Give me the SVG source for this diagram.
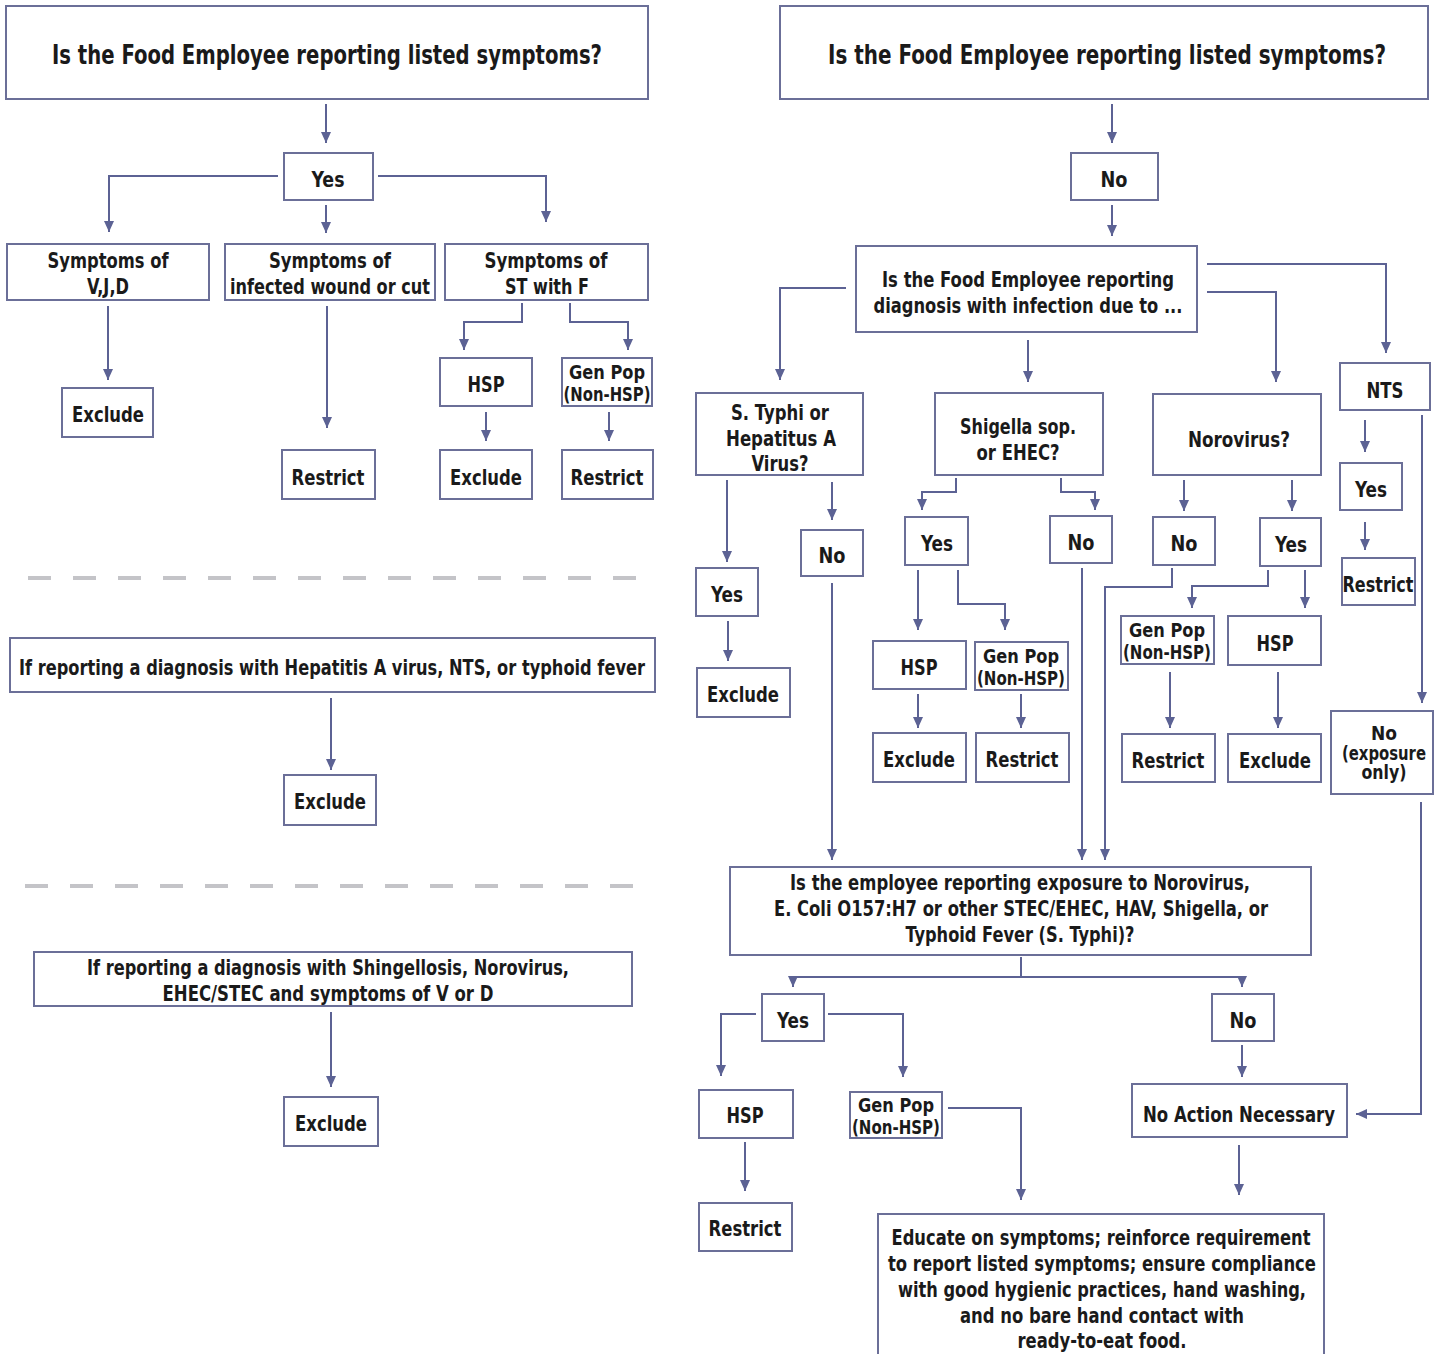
<svg xmlns="http://www.w3.org/2000/svg" width="1442" height="1354" viewBox="0 0 1442 1354">
<style>
.b{fill:#fff;stroke:#6b6f98;stroke-width:2}
.t{font-family:'Liberation Sans Narrow','DejaVu Sans Condensed','DejaVu Sans',sans-serif;font-stretch:condensed;font-weight:bold;font-size:22px;fill:#1a1a1a;text-anchor:middle}
.s{font-size:19px}
.h{font-size:27px}
.c{fill:none;stroke:#5c6294;stroke-width:2}
.d{fill:none;stroke:#c4c4c8;stroke-width:4;stroke-dasharray:23 22}
</style>
<defs>
<marker id="a" markerUnits="userSpaceOnUse" markerWidth="12" markerHeight="10" refX="11" refY="5" orient="auto">
<path d="M0,0 L11,5 L0,10 z" fill="#5c6294"/>
</marker>
</defs>
<rect width="1442" height="1354" fill="#fff"/>

<g id="connectors">
<g class="c" marker-end="url(#a)">
<path d="M326,104 V143"/>
<path d="M278,176 H109 V232"/>
<path d="M326,205 V233"/>
<path d="M378,176 H546 V222"/>
<path d="M108,306 V380"/>
<path d="M327,306 V428"/>
<path d="M522,303 V322 H464 V350"/>
<path d="M570,303 V322 H628 V350"/>
<path d="M486,412 V441"/>
<path d="M609,412 V441"/>
<path d="M331,698 V770"/>
<path d="M331,1012 V1087"/>
<path d="M1112,104 V143"/>
<path d="M1112,205 V236"/>
<path d="M846,288 H780 V380"/>
<path d="M1028,340 V382"/>
<path d="M1207,292 H1276 V382"/>
<path d="M1207,264 H1386 V353"/>
<path d="M727,480 V562"/>
<path d="M832,482 V520"/>
<path d="M728,621 V661"/>
<path d="M832,583 V860"/>
<path d="M956,478 V492 H922 V510"/>
<path d="M1061,478 V492 H1095 V510"/>
<path d="M918,570 V630"/>
<path d="M958,570 V604 H1005 V630"/>
<path d="M918,694 V728"/>
<path d="M1021,694 V728"/>
<path d="M1082,568 V860"/>
<path d="M1184,480 V511"/>
<path d="M1292,480 V511"/>
<path d="M1172,568 V587 H1105 V860"/>
<path d="M1268,570 V586 H1192 V608"/>
<path d="M1305,570 V608"/>
<path d="M1170,672 V728"/>
<path d="M1278,672 V728"/>
<path d="M1365,420 V452"/>
<path d="M1365,522 V550"/>
<path d="M1422,415 V703"/>
<path d="M1421,802 V1114 H1356"/>
<path d="M1021,977 H793 V987"/>
<path d="M1021,977 H1242 V987"/>
<path d="M756,1014 H721 V1076"/>
<path d="M828,1014 H903 V1077"/>
<path d="M745,1142 V1191"/>
<path d="M948,1108 H1021 V1200"/>
<path d="M1242,1045 V1077"/>
<path d="M1239,1145 V1195"/>
</g>
<path class="c" d="M1021,957 V977"/>
<path class="d" d="M28,578 H640"/>
<path class="d" d="M25,886 H640"/>
</g>

<g id="title-left"><rect class="b" x="6" y="6" width="642" height="93"/><text class="t h" x="327" y="64" textLength="550" lengthAdjust="spacingAndGlyphs">Is the Food Employee reporting listed symptoms?</text></g>
<g id="yes-left"><rect class="b" x="284" y="153" width="89" height="47"/><text class="t" x="328" y="187" textLength="33" lengthAdjust="spacingAndGlyphs">Yes</text></g>
<g id="sym-vjd"><rect class="b" x="7" y="244" width="202" height="56"/><text class="t" x="108" y="268" textLength="121" lengthAdjust="spacingAndGlyphs">Symptoms of</text><text class="t" x="108" y="294" textLength="42" lengthAdjust="spacingAndGlyphs">V,J,D</text></g>
<g id="sym-wound"><rect class="b" x="225" y="244" width="210" height="56"/><text class="t" x="330" y="268" textLength="122" lengthAdjust="spacingAndGlyphs">Symptoms of</text><text class="t" x="330" y="294" textLength="200" lengthAdjust="spacingAndGlyphs">infected wound or cut</text></g>
<g id="sym-st"><rect class="b" x="445" y="244" width="203" height="56"/><text class="t" x="546" y="268" textLength="123" lengthAdjust="spacingAndGlyphs">Symptoms of</text><text class="t" x="547" y="294" textLength="84" lengthAdjust="spacingAndGlyphs">ST with F</text></g>
<g id="exclude-vjd"><rect class="b" x="62" y="388" width="91" height="49"/><text class="t" x="108" y="422" textLength="72" lengthAdjust="spacingAndGlyphs">Exclude</text></g>
<g id="restrict-wound"><rect class="b" x="282" y="450" width="93" height="49"/><text class="t" x="328" y="485" textLength="73" lengthAdjust="spacingAndGlyphs">Restrict</text></g>
<g id="hsp-st"><rect class="b" x="440" y="358" width="92" height="48"/><text class="t" x="486" y="392" textLength="37" lengthAdjust="spacingAndGlyphs">HSP</text></g>
<g id="genpop-st"><rect class="b" x="562" y="358" width="90" height="48"/><text class="t s" x="607" y="379" textLength="76" lengthAdjust="spacingAndGlyphs">Gen Pop</text><text class="t s" x="607" y="401" textLength="87" lengthAdjust="spacingAndGlyphs">(Non-HSP)</text></g>
<g id="exclude-st"><rect class="b" x="440" y="450" width="92" height="49"/><text class="t" x="486" y="485" textLength="72" lengthAdjust="spacingAndGlyphs">Exclude</text></g>
<g id="restrict-st"><rect class="b" x="562" y="450" width="91" height="49"/><text class="t" x="607" y="485" textLength="73" lengthAdjust="spacingAndGlyphs">Restrict</text></g>
<g id="hep-diag"><rect class="b" x="10" y="638" width="645" height="54"/><text class="t" x="332" y="675" textLength="626" lengthAdjust="spacingAndGlyphs">If reporting a diagnosis with Hepatitis A virus, NTS, or typhoid fever</text></g>
<g id="exclude-hep"><rect class="b" x="284" y="775" width="92" height="50"/><text class="t" x="330" y="809" textLength="72" lengthAdjust="spacingAndGlyphs">Exclude</text></g>
<g id="shig-diag"><rect class="b" x="34" y="952" width="598" height="54"/><text class="t" x="328" y="975" textLength="482" lengthAdjust="spacingAndGlyphs">If reporting a diagnosis with Shingellosis, Norovirus,</text><text class="t" x="328" y="1001" textLength="331" lengthAdjust="spacingAndGlyphs">EHEC/STEC and symptoms of V or D</text></g>
<g id="exclude-shig"><rect class="b" x="284" y="1097" width="94" height="49"/><text class="t" x="331" y="1131" textLength="72" lengthAdjust="spacingAndGlyphs">Exclude</text></g>

<g id="title-right"><rect class="b" x="780" y="6" width="648" height="93"/><text class="t h" x="1107" y="64" textLength="558" lengthAdjust="spacingAndGlyphs">Is the Food Employee reporting listed symptoms?</text></g>
<g id="no-top"><rect class="b" x="1071" y="153" width="87" height="47"/><text class="t" x="1114" y="187" textLength="27" lengthAdjust="spacingAndGlyphs">No</text></g>
<g id="diagnosis"><rect class="b" x="856" y="246" width="341" height="86"/><text class="t" x="1028" y="287" textLength="292" lengthAdjust="spacingAndGlyphs">Is the Food Employee reporting</text><text class="t" x="1028" y="313" textLength="309" lengthAdjust="spacingAndGlyphs">diagnosis with infection due to ...</text></g>
<g id="typhi"><rect class="b" x="696" y="393" width="167" height="82"/><text class="t" x="780" y="420" textLength="98" lengthAdjust="spacingAndGlyphs">S. Typhi or</text><text class="t" x="781" y="446" textLength="110" lengthAdjust="spacingAndGlyphs">Hepatitus A</text><text class="t" x="780" y="471" textLength="57" lengthAdjust="spacingAndGlyphs">Virus?</text></g>
<g id="shigella"><rect class="b" x="935" y="393" width="168" height="82"/><text class="t" x="1018" y="434" textLength="116" lengthAdjust="spacingAndGlyphs">Shigella sop.</text><text class="t" x="1018" y="460" textLength="83" lengthAdjust="spacingAndGlyphs">or EHEC?</text></g>
<g id="norovirus"><rect class="b" x="1153" y="394" width="168" height="81"/><text class="t" x="1239" y="447" textLength="102" lengthAdjust="spacingAndGlyphs">Norovirus?</text></g>
<g id="nts"><rect class="b" x="1340" y="363" width="90" height="47"/><text class="t" x="1385" y="398" textLength="37" lengthAdjust="spacingAndGlyphs">NTS</text></g>
<g id="typhi-yes"><rect class="b" x="696" y="568" width="62" height="48"/><text class="t" x="727" y="602" textLength="32" lengthAdjust="spacingAndGlyphs">Yes</text></g>
<g id="typhi-no"><rect class="b" x="801" y="530" width="62" height="46"/><text class="t" x="832" y="563" textLength="27" lengthAdjust="spacingAndGlyphs">No</text></g>
<g id="typhi-exclude"><rect class="b" x="697" y="668" width="93" height="49"/><text class="t" x="743" y="702" textLength="72" lengthAdjust="spacingAndGlyphs">Exclude</text></g>
<g id="shig-yes"><rect class="b" x="905" y="517" width="63" height="48"/><text class="t" x="937" y="551" textLength="32" lengthAdjust="spacingAndGlyphs">Yes</text></g>
<g id="shig-no"><rect class="b" x="1050" y="516" width="62" height="47"/><text class="t" x="1081" y="550" textLength="27" lengthAdjust="spacingAndGlyphs">No</text></g>
<g id="shig-hsp"><rect class="b" x="873" y="641" width="93" height="48"/><text class="t" x="919" y="675" textLength="37" lengthAdjust="spacingAndGlyphs">HSP</text></g>
<g id="shig-genpop"><rect class="b" x="975" y="642" width="93" height="48"/><text class="t s" x="1021" y="663" textLength="76" lengthAdjust="spacingAndGlyphs">Gen Pop</text><text class="t s" x="1021" y="685" textLength="88" lengthAdjust="spacingAndGlyphs">(Non-HSP)</text></g>
<g id="shig-exclude"><rect class="b" x="873" y="733" width="93" height="49"/><text class="t" x="919" y="767" textLength="72" lengthAdjust="spacingAndGlyphs">Exclude</text></g>
<g id="shig-restrict"><rect class="b" x="976" y="733" width="93" height="49"/><text class="t" x="1022" y="767" textLength="73" lengthAdjust="spacingAndGlyphs">Restrict</text></g>
<g id="noro-no"><rect class="b" x="1153" y="517" width="62" height="48"/><text class="t" x="1184" y="551" textLength="27" lengthAdjust="spacingAndGlyphs">No</text></g>
<g id="noro-yes"><rect class="b" x="1260" y="518" width="61" height="48"/><text class="t" x="1291" y="552" textLength="32" lengthAdjust="spacingAndGlyphs">Yes</text></g>
<g id="noro-genpop"><rect class="b" x="1121" y="616" width="93" height="48"/><text class="t s" x="1167" y="637" textLength="76" lengthAdjust="spacingAndGlyphs">Gen Pop</text><text class="t s" x="1167" y="659" textLength="88" lengthAdjust="spacingAndGlyphs">(Non-HSP)</text></g>
<g id="noro-hsp"><rect class="b" x="1228" y="616" width="93" height="49"/><text class="t" x="1275" y="651" textLength="37" lengthAdjust="spacingAndGlyphs">HSP</text></g>
<g id="noro-restrict"><rect class="b" x="1122" y="734" width="93" height="48"/><text class="t" x="1168" y="768" textLength="73" lengthAdjust="spacingAndGlyphs">Restrict</text></g>
<g id="noro-exclude"><rect class="b" x="1228" y="734" width="93" height="48"/><text class="t" x="1275" y="768" textLength="72" lengthAdjust="spacingAndGlyphs">Exclude</text></g>
<g id="nts-yes"><rect class="b" x="1340" y="463" width="62" height="47"/><text class="t" x="1371" y="497" textLength="32" lengthAdjust="spacingAndGlyphs">Yes</text></g>
<g id="nts-restrict"><rect class="b" x="1342" y="558" width="73" height="47"/><text class="t" x="1378" y="592" textLength="71" lengthAdjust="spacingAndGlyphs">Restrict</text></g>
<g id="nts-no"><rect class="b" x="1331" y="711" width="102" height="83"/><text class="t s" x="1384" y="740" textLength="26" lengthAdjust="spacingAndGlyphs">No</text><text class="t s" x="1384" y="760" textLength="84" lengthAdjust="spacingAndGlyphs">(exposure</text><text class="t s" x="1384" y="779" textLength="45" lengthAdjust="spacingAndGlyphs">only)</text></g>
<g id="exposure"><rect class="b" x="730" y="867" width="581" height="88"/><text class="t" x="1020" y="890" textLength="460" lengthAdjust="spacingAndGlyphs">Is the employee reporting exposure to Norovirus,</text><text class="t" x="1021" y="916" textLength="494" lengthAdjust="spacingAndGlyphs">E. Coli O157:H7 or other STEC/EHEC, HAV, Shigella, or</text><text class="t" x="1020" y="942" textLength="229" lengthAdjust="spacingAndGlyphs">Typhoid Fever (S. Typhi)?</text></g>
<g id="exp-yes"><rect class="b" x="762" y="994" width="62" height="47"/><text class="t" x="793" y="1028" textLength="32" lengthAdjust="spacingAndGlyphs">Yes</text></g>
<g id="exp-no"><rect class="b" x="1212" y="994" width="62" height="47"/><text class="t" x="1243" y="1028" textLength="27" lengthAdjust="spacingAndGlyphs">No</text></g>
<g id="exp-hsp"><rect class="b" x="699" y="1090" width="94" height="48"/><text class="t" x="745" y="1123" textLength="37" lengthAdjust="spacingAndGlyphs">HSP</text></g>
<g id="exp-genpop"><rect class="b" x="850" y="1092" width="92" height="46"/><text class="t s" x="896" y="1112" textLength="76" lengthAdjust="spacingAndGlyphs">Gen Pop</text><text class="t s" x="896" y="1134" textLength="88" lengthAdjust="spacingAndGlyphs">(Non-HSP)</text></g>
<g id="exp-restrict"><rect class="b" x="699" y="1203" width="93" height="48"/><text class="t" x="745" y="1236" textLength="73" lengthAdjust="spacingAndGlyphs">Restrict</text></g>
<g id="no-action"><rect class="b" x="1132" y="1084" width="215" height="53"/><text class="t" x="1239" y="1122" textLength="192" lengthAdjust="spacingAndGlyphs">No Action Necessary</text></g>
<g id="educate"><rect class="b" x="878" y="1214" width="446" height="145"/><text class="t" x="1101" y="1245" textLength="419" lengthAdjust="spacingAndGlyphs">Educate on symptoms; reinforce requirement</text><text class="t" x="1102" y="1271" textLength="428" lengthAdjust="spacingAndGlyphs">to report listed symptoms; ensure compliance</text><text class="t" x="1102" y="1297" textLength="408" lengthAdjust="spacingAndGlyphs">with good hygienic practices, hand washing,</text><text class="t" x="1102" y="1323" textLength="284" lengthAdjust="spacingAndGlyphs">and no bare hand contact with</text><text class="t" x="1102" y="1348" textLength="169" lengthAdjust="spacingAndGlyphs">ready-to-eat food.</text></g>
</svg>
